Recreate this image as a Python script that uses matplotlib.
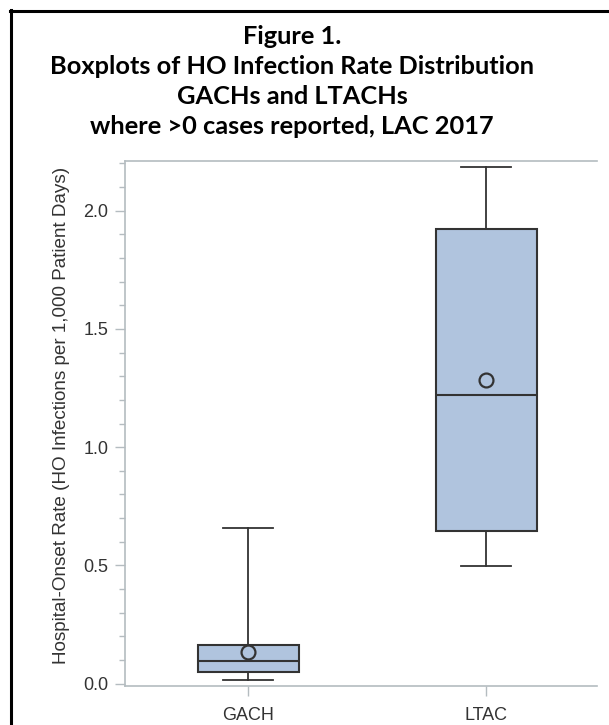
import matplotlib.pyplot as plt
from matplotlib.ticker import MultipleLocator

# values
groups = ['GACH', 'LTAC']
whisker_low = [0.017, 0.499]
q1 = [0.051, 0.645]
median = [0.097, 1.222]
q3 = [0.165, 1.924]
whisker_high = [0.66, 2.186]
mean = [0.135, 1.285]

title_lines = ['Figure 1.',
               'Boxplots of HO Infection Rate Distribution',
               'GACHs and LTACHs',
               'where >0 cases reported, LAC 2017']
ylabel = 'Hospital-Onset Rate (HO Infections per 1,000 Patient Days)'

plt.rcParams['font.family'] = ['Liberation Sans', 'DejaVu Sans']

stats = []
for i, g in enumerate(groups):
    stats.append({'label': g, 'whislo': whisker_low[i], 'q1': q1[i], 'med': median[i],
                  'q3': q3[i], 'whishi': whisker_high[i], 'mean': mean[i], 'fliers': []})

fig = plt.figure(figsize=(6.09, 7.25), dpi=100)
ax = fig.add_axes([125 / 609, 1 - 686 / 725, (597 - 125) / 609, (686 - 161) / 725])

edge = '#333333'
ax.bxp(stats, positions=[1, 2], widths=0.424, patch_artist=True, showmeans=True,
       showfliers=False,
       boxprops=dict(facecolor='#b0c4de', edgecolor=edge, linewidth=1.5),
       medianprops=dict(color=edge, linewidth=1.5),
       whiskerprops=dict(color=edge, linewidth=1.3),
       capprops=dict(color=edge, linewidth=1.3),
       meanprops=dict(marker='o', markersize=10, markerfacecolor='none',
                      markeredgecolor=edge, markeredgewidth=1.6))

ax.set_xlim(0.483, 2.466)
ax.set_ylim(-0.01, 2.21)
ax.yaxis.set_major_locator(MultipleLocator(0.5))
ax.yaxis.set_minor_locator(MultipleLocator(0.1))
ax.yaxis.set_major_formatter(plt.FormatStrFormatter('%.1f'))

spine_c = '#b4bcc0'
for s in ['left', 'top', 'bottom']:
    ax.spines[s].set_color(spine_c)
    ax.spines[s].set_linewidth(1.2)
ax.spines['right'].set_visible(False)

ax.tick_params(axis='both', which='major', colors=spine_c, length=7, width=1,
               labelcolor='#333333', labelsize=13)
ax.tick_params(axis='y', which='minor', colors=spine_c, length=4, width=1)
ax.tick_params(axis='y', pad=5)
ax.tick_params(axis='x', pad=8)

ax.set_ylabel(ylabel, fontsize=13.6, color='#333333')
ax.yaxis.set_label_coords(-0.117, 0.516)

y = 725 - 37
for line in title_lines:
    fig.text(292 / 609, y / 725, line, ha='center', va='center', fontsize=18.3,
             fontweight='bold', family='Lato', color='black')
    y -= 30

# partial outer frame (left and top sides visible)
fig.add_artist(plt.Line2D([11 / 609, 11 / 609], [0, 1 - 10 / 725], color='black', lw=2.2,
                          transform=fig.transFigure))
fig.add_artist(plt.Line2D([10 / 609, 1], [1 - 11 / 725, 1 - 11 / 725], color='black', lw=2.2,
                          transform=fig.transFigure))

fig.savefig('out.png', dpi=100)
